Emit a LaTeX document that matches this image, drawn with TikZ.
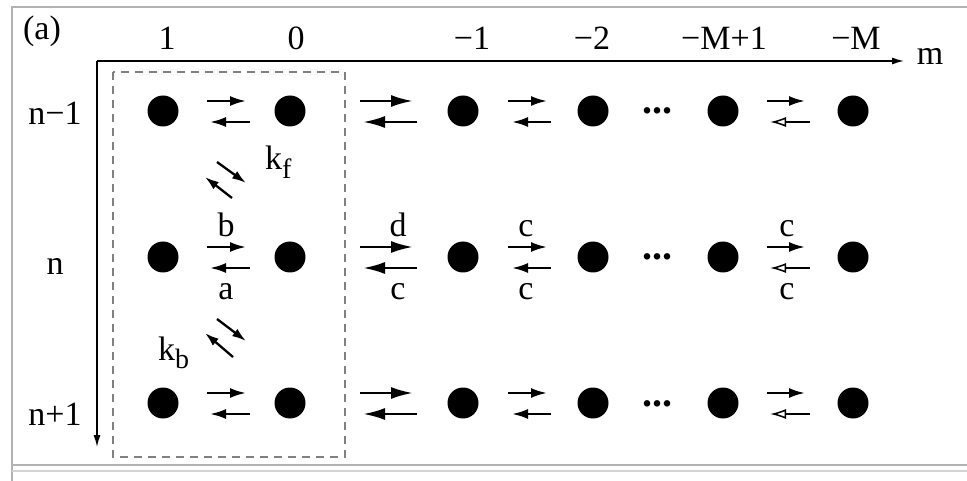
\documentclass[tikz,border=0pt]{standalone}
\usepackage{fontspec}
\setmainfont{Liberation Serif}
\usetikzlibrary{arrows.meta,calc}
\begin{document}
\begin{tikzpicture}[x=1pt,y=-1pt,
 dot/.style={circle,fill=black,inner sep=0pt,minimum size=31pt},
 lbl/.style={font=\fontsize{34}{40}\selectfont,inner sep=0pt,anchor=base},
 sarr/.style={line width=2.3pt,-{Latex[length=16pt,width=10pt]}},
 darr/.style={line width=2.3pt,-{Latex[length=14pt,width=9pt]}},
 larr/.style={line width=2.6pt,-{Latex[length=22pt,width=12pt]}},
 oarr/.style={line width=2.3pt,-{Latex[open,fill=white,length=16pt,width=10pt,line width=1.5pt]}},
 axis/.style={line width=1.4pt,-{Latex[length=12pt,width=7pt]}},
 frameline/.style={draw=gray!60,line width=2pt},
 dashbox/.style={draw=gray,dash pattern=on 8pt off 6pt,line width=1.4pt}]
\useasboundingbox (0,0) rectangle (967,481);
% frame
\draw[frameline] (967,7) -- (12,7) -- (12,481);
\draw[draw=gray!60,line width=2pt] (12,465) -- (967,465);
\draw[draw=gray!35,line width=2pt] (12,471) -- (967,471);
% dashed box
\draw[dashbox] (113,72) rectangle (345,457);
% axes
\coordinate (O) at (97,61);
\coordinate (mEnd) at (904,61);
\coordinate (nEnd) at (97,447);
\draw[axis] (O) -- (mEnd);
\draw[axis] (O) -- (nEnd);
\node[lbl] (mlab) at (930,65) {m};
\node[lbl] (alab) at (42,40) {(a)};
% column labels
\node[lbl] (c1) at (167,50) {1};
\node[lbl] (c0) at (296,50) {0};
\node[lbl] (cm1) at (472,50) {−1};
\node[lbl] (cm2) at (592,50) {−2};
\node[lbl] (cM1) at (724,50) {−M+1};
\node[lbl] (cM) at (856,50) {−M};
% row labels
\node[lbl] (r1) at (55,125) {n−1};
\node[lbl] (r2) at (55,275) {n};
\node[lbl] (r3) at (55,425) {n+1};
% dots and arrows
\foreach \r/\y in {1/111,2/257,3/403}{
  \foreach \c/\x in {a/163,b/290,c/463,d/593,e/723,f/853}{
    \node[dot] (d\r\c) at (\x,\y) {};
  }
  \node[lbl,font=\fontsize{40}{40}\selectfont\bfseries] (el\r) at (657,\y+3) {...};
  \draw[sarr] ($(d\r a)+(44,-10)$) -- ($(d\r a)+(83,-10)$);
  \draw[sarr] ($(d\r a)+(87,11)$) -- ($(d\r a)+(47,11)$);
  \draw[larr] ($(d\r b)+(70,-10)$) -- ($(d\r b)+(123,-10)$);
  \draw[larr] ($(d\r b)+(127,11)$) -- ($(d\r b)+(73,11)$);
  \draw[sarr] ($(d\r c)+(45,-10)$) -- ($(d\r c)+(84,-10)$);
  \draw[sarr] ($(d\r c)+(88,11)$) -- ($(d\r c)+(49,11)$);
  \draw[sarr] ($(d\r e)+(44,-10)$) -- ($(d\r e)+(82,-10)$);
  \draw[oarr] ($(d\r e)+(87,11)$) -- ($(d\r e)+(47,11)$);
}
% rate labels in row n
\node[lbl] (lb) at (226,237) {b};
\node[lbl] (la) at (226,300) {a};
\node[lbl] (ld) at (398,237) {d};
\node[lbl] (lc1) at (398,300) {c};
\node[lbl] (lc2) at (526,237) {c};
\node[lbl] (lc3) at (526,300) {c};
\node[lbl] (lc4) at (787,237) {c};
\node[lbl] (lc5) at (787,300) {c};
% diagonal arrows
\coordinate (f1s) at (217,162); \coordinate (f1e) at (246,183);
\coordinate (f2s) at (232,198); \coordinate (f2e) at (205,177);
\coordinate (b1s) at (217,319); \coordinate (b1e) at (246,341);
\coordinate (b2s) at (233,357); \coordinate (b2e) at (205,333);
\draw[darr] (f1s) -- (f1e);
\draw[darr] (f2s) -- (f2e);
\draw[darr] (b1s) -- (b1e);
\draw[darr] (b2s) -- (b2e);
\node[lbl,anchor=base west] (kf) at (265,170) {k\raisebox{-9pt}{\fontsize{28}{30}\selectfont f}};
\node[lbl,anchor=base west] (kb) at (158,360) {k\raisebox{-8pt}{\fontsize{28}{30}\selectfont b}};
\end{tikzpicture}
\end{document}
